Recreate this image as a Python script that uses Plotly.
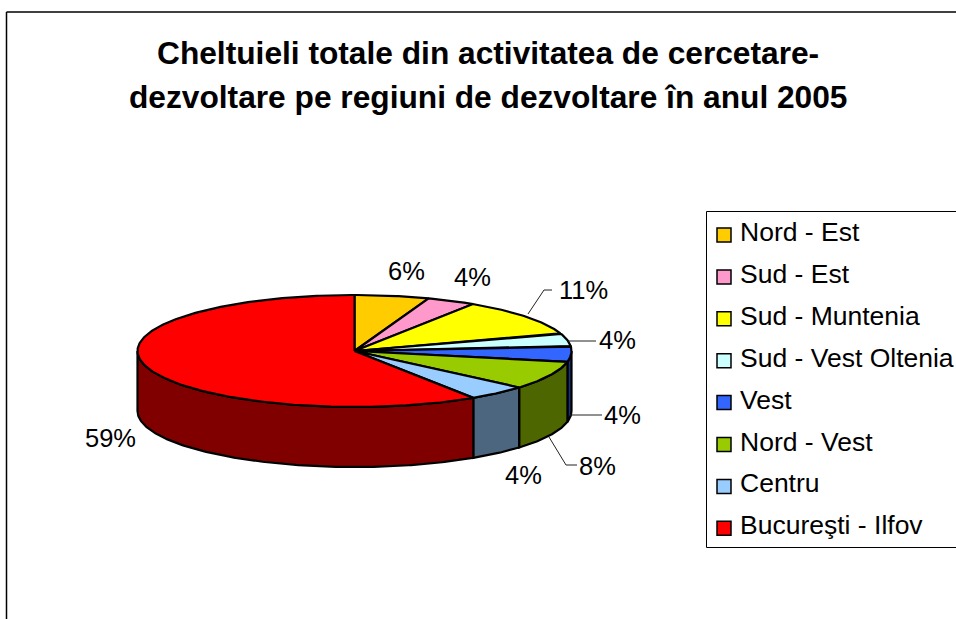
import math
import plotly.graph_objects as go

categories = ["Nord - Est", "Sud - Est", "Sud - Muntenia", "Sud - Vest Oltenia",
              "Vest", "Nord - Vest", "Centru", "Bucureşti - Ilfov"]
shares = [5.55, 3.65, 10.7, 3.7, 4.49, 8.2, 4.49, 59.22]
share_labels = ["6%", "4%", "11%", "4%", "4%", "8%", "4%", "59%"]
top_colors = ["#FFCC00", "#FF99CC", "#FFFF00", "#CCFFFF", "#3366FF", "#99CC00", "#99CCFF", "#FF0000"]
side_colors = ["#806600", "#804D66", "#808000", "#668080", "#1A3380", "#4D6600", "#4D6680", "#800000"]
title_lines = ["Cheltuieli totale din activitatea de cercetare-",
               "dezvoltare pe regiuni de dezvoltare în anul 2005"]

FONT = "Liberation Sans"
CX, CY, RX, RY, DEPTH = 354.5, 351, 217, 56, 60
label_pos = [(406, 271), (472, 277), (583, 290), (617, 340), (622, 415), (597, 466), (523, 475), (110, 438)]
leaders = [None, None, [(528, 314), (544, 290), (552, 290)], [(568, 341), (596, 341)],
           [(570, 415), (602, 415)], [(549, 437), (566, 465), (577, 465)], None, None]


def rim(a, b, dy=0.0):
    n = max(2, int(abs(b - a) * 1.5))
    pts = [a + (b - a) * i / n for i in range(n + 1)]
    return ([CX + RX * math.sin(math.radians(t)) for t in pts],
            [CY - RY * math.cos(math.radians(t)) + dy for t in pts])


fig = go.Figure()
starts, t = [], 0.0
for s in shares:
    starts.append(t)
    t += s * 3.6
spans = [(st, st + s * 3.6) for st, s in zip(starts, shares)]

# outer walls first (only the front half of the rim is visible)
for name, (a, b), c in zip(categories, spans, side_colors):
    lo, hi = max(a, 90), min(b, 270)
    if hi <= lo:
        continue
    x1, y1 = rim(lo, hi)
    x2, y2 = rim(hi, lo, DEPTH)
    fig.add_trace(go.Scatter(x=x1 + x2 + [x1[0]], y=y1 + y2 + [y1[0]], mode="lines",
                             fill="toself", fillcolor=c, line=dict(color="black", width=2.2),
                             hoverinfo="skip", showlegend=False))
# top faces
for name, (a, b), c, lab in zip(categories, spans, top_colors, share_labels):
    x1, y1 = rim(a, b)
    fig.add_trace(go.Scatter(x=[CX] + x1 + [CX], y=[CY] + y1 + [CY], mode="lines",
                             fill="toself", fillcolor=c, line=dict(color="black", width=2.2),
                             name=name, text=f"{name}: {lab}", hoverinfo="text", showlegend=False))
# leader lines
for pts in leaders:
    if pts:
        fig.add_trace(go.Scatter(x=[p[0] for p in pts], y=[p[1] for p in pts], mode="lines",
                                 line=dict(color="#222222", width=1), hoverinfo="skip", showlegend=False))
# legend keys
LEG_Y0, LEG_DY = 235, 41.9
fig.add_trace(go.Scatter(x=[724] * 8, y=[LEG_Y0 + i * LEG_DY for i in range(8)], mode="markers",
                         marker=dict(symbol="square", size=14, color=top_colors, line=dict(color="black", width=1.5)),
                         hoverinfo="skip", showlegend=False))

annotations = []
for lab, (x, y) in zip(share_labels, label_pos):
    annotations.append(dict(x=x, y=y, text=lab, showarrow=False, xanchor="center", yanchor="middle",
                            font=dict(family=FONT, size=25.5, color="black")))
for i, name in enumerate(categories):
    annotations.append(dict(x=737.5, y=LEG_Y0 - 3 + i * LEG_DY, text=name, showarrow=False, xanchor="left", yanchor="middle",
                            font=dict(family=FONT, size=26.5, color="black")))
for line, y in zip(title_lines, (52.5, 97)):
    annotations.append(dict(x=488, y=y, text=f"<b>{line}</b>", showarrow=False, xanchor="center", yanchor="middle",
                            font=dict(family=FONT, size=31.7, color="black")))

shapes = [
    dict(type="line", x0=6.5, y0=619, x1=6.5, y1=12, line=dict(color="black", width=1.5)),
    dict(type="line", x0=6.5, y0=12, x1=956, y1=12, line=dict(color="black", width=1.5)),
    dict(type="rect", x0=706.5, y0=211.5, x1=960, y1=547.5, line=dict(color="black", width=1)),
]

fig.update_layout(
    width=956, height=619, margin=dict(l=0, r=0, t=0, b=0),
    paper_bgcolor="white", plot_bgcolor="white", showlegend=False,
    xaxis=dict(range=[0, 956], visible=False, fixedrange=True),
    yaxis=dict(range=[619, 0], visible=False, fixedrange=True),
    annotations=annotations, shapes=shapes,
)
fig.write_html("out.html", config={"displayModeBar": False},
               post_script="document.body.style.margin='0';document.body.style.overflow='hidden';")
